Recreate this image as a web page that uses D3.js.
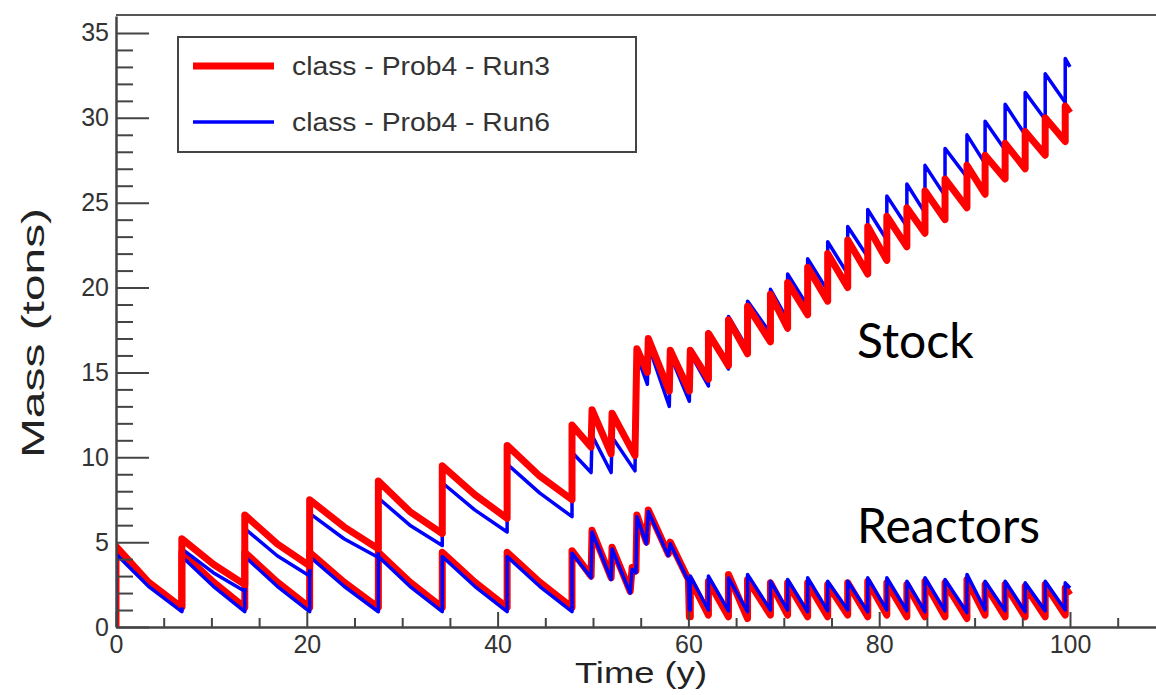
<!DOCTYPE html>
<html>
<head>
<meta charset="utf-8">
<script src="https://cdn.jsdelivr.net/npm/d3@7"></script>
<style>
  body { margin: 0; background: #fff; }
  svg { display: block; }
  text { font-family: "Liberation Sans", Arial, Helvetica, sans-serif; }
</style>
</head>
<body>
<svg width="1156" height="695"></svg>
<script>
// values: [time (y), mass (tons)]
// irregular first part of each curve, vertical jumps are repeated times
var reactorsRun3Start = [
  [0, 0], [0, 4.75], [3.4, 2.65], [6.9, 1.15],
  [6.9, 4.4], [10.2, 2.65], [13.5, 1.15],
  [13.5, 4.4], [16.9, 2.65], [20.3, 1.15],
  [20.3, 4.4], [23.9, 2.65], [27.5, 1.15],
  [27.5, 4.4], [30.8, 2.65], [34.2, 1.15],
  [34.2, 4.4], [37.6, 2.65], [41.0, 1.15],
  [41.0, 4.4], [44.4, 2.65], [47.8, 1.15],
  [47.8, 4.5], [49.8, 3.0], [49.9, 5.7], [51.9, 2.9],
  [52.0, 4.7], [53.9, 2.1], [54.1, 3.5], [54.5, 3.3],
  [54.6, 6.6], [55.6, 5.0], [55.8, 6.9], [57.9, 4.3],
  [58.1, 5.0], [60.0, 2.8], [60.1, 0.6], [60.2, 0.6],
  [60.2, 2.8]
];
var reactorsRun6Start = [
  [0, 0], [0, 4.3], [3.4, 2.4], [6.9, 0.9],
  [6.9, 4.15], [10.2, 2.4], [13.5, 0.9],
  [13.5, 4.15], [16.9, 2.4], [20.3, 0.9],
  [20.3, 4.15], [23.9, 2.4], [27.5, 0.9],
  [27.5, 4.15], [30.8, 2.4], [34.2, 0.9],
  [34.2, 4.15], [37.6, 2.4], [41.0, 0.9],
  [41.0, 4.15], [44.4, 2.4], [47.8, 0.9],
  [47.8, 4.35], [49.8, 2.9], [49.9, 5.6], [51.9, 2.8],
  [52.0, 4.6], [53.9, 2.0], [54.1, 3.4], [54.5, 3.2],
  [54.6, 6.5], [55.6, 4.9], [55.8, 6.8], [57.9, 4.2],
  [58.1, 4.9], [60.0, 2.7], [60.1, 1.0], [60.2, 1.0],
  [60.2, 3.0]
];
var stockRun3Start = [
  [6.9, 1.15], [6.9, 5.2], [10.2, 3.7], [13.5, 2.5],
  [13.5, 6.6], [16.9, 4.9], [20.3, 3.6],
  [20.3, 7.5], [23.9, 5.9], [27.5, 4.6],
  [27.5, 8.6], [30.8, 6.8], [34.2, 5.5],
  [34.2, 9.5], [37.6, 7.8], [41.0, 6.4],
  [41.0, 10.7], [44.4, 8.9], [47.8, 7.5],
  [47.8, 11.9], [49.8, 10.6], [49.9, 12.8], [51.9, 10.2],
  [52.0, 12.6], [54.4, 10.1], [54.6, 16.4], [55.7, 15.0],
  [55.8, 17.0], [58.0, 13.9], [58.1, 16.3], [60.1, 13.9],
  [60.2, 16.3]
];
var stockRun6Start = [
  [6.9, 0.9], [6.9, 4.6], [10.2, 3.2], [13.5, 2.1],
  [13.5, 5.8], [16.9, 4.2], [20.3, 3.0],
  [20.3, 6.7], [23.9, 5.2], [27.5, 4.1],
  [27.5, 7.6], [30.8, 6.0], [34.2, 4.8],
  [34.2, 8.5], [37.6, 6.9], [41.0, 5.6],
  [41.0, 9.6], [44.4, 7.9], [47.8, 6.5],
  [47.8, 10.3], [49.8, 9.1], [49.9, 11.3], [51.9, 9.1],
  [52.0, 11.2], [54.4, 9.2], [54.6, 16.0], [55.7, 14.3],
  [55.8, 16.6], [58.0, 13.0], [58.1, 16.0], [60.1, 13.3],
  [60.2, 16.1]
];

// regular 2-year teeth after t = 62: reload times, value just before and just after
var toothTimes = [62.1, 64.2, 66.2, 68.6, 70.4, 72.5, 74.6, 76.7, 78.8, 80.8,
                  82.9, 84.8, 86.9, 89.2, 91.1, 93.2, 95.3, 97.4, 99.5];

var stockRun3Low  = [14.6, 15.4, 16.1, 16.8, 17.6, 18.4, 19.2, 20.0, 20.8, 21.6,
                     22.4, 23.2, 24.0, 24.7, 25.5, 26.4, 27.0, 27.8, 28.6];
var stockRun3High = [17.3, 18.1, 18.9, 19.6, 20.3, 21.2, 22.0, 22.8, 23.6, 24.2,
                     24.7, 25.7, 26.4, 27.2, 27.8, 28.5, 29.2, 30.0, 30.7];
var stockRun6Low  = [14.2, 15.2, 16.4, 17.3, 18.1, 18.9, 19.8, 20.8, 21.8, 22.8,
                     23.6, 24.4, 25.4, 26.5, 27.3, 28.1, 29.0, 29.9, 30.9];
var stockRun6High = [17.4, 18.3, 19.2, 19.9, 20.8, 21.7, 22.7, 23.6, 24.6, 25.4,
                     26.1, 27.2, 28.2, 29.0, 29.8, 30.8, 31.5, 32.6, 33.5];

var reactorsRun3Low  = [0.7, 0.6, 0.5, 0.7, 0.7, 0.6, 0.6, 0.7, 0.6, 0.7,
                        0.6, 0.6, 0.6, 0.5, 0.7, 0.6, 0.6, 0.6, 0.7];
var reactorsRun3High = [2.7, 3.1, 2.8, 2.6, 2.6, 2.6, 2.5, 2.6, 2.7, 2.6,
                        2.5, 2.7, 2.6, 2.8, 2.5, 2.5, 2.4, 2.5, 2.3];
var reactorsRun6Low  = [1.0, 0.95, 0.9, 1.0, 1.0, 0.9, 0.95, 1.0, 0.9, 1.0,
                        0.95, 0.9, 0.95, 0.85, 1.0, 0.95, 0.9, 0.95, 1.0];
var reactorsRun6High = [3.0, 2.9, 3.1, 2.7, 2.8, 2.9, 2.7, 2.7, 2.9, 2.9,
                        2.7, 2.9, 2.8, 3.1, 2.7, 2.7, 2.6, 2.7, 2.6];

// value at t = 100 where the curves stop
var endValues = {stockRun3: 30.3, stockRun6: 33.0, reactorsRun3: 1.9, reactorsRun6: 2.3};

var seriesNames = ["class - Prob4 - Run3", "class - Prob4 - Run6"];
var xTicks = [0, 20, 40, 60, 80, 100];
var yTicks = [0, 5, 10, 15, 20, 25, 30, 35];

var svg = d3.select("svg");
var width = 1156;
var height = 695;
var margin = {left: 116, top: 16, bottom: 68};

var xScale = d3.scaleLinear().domain([0, 110]).range([margin.left, margin.left + 110 * 9.54]);
var yScale = d3.scaleLinear().domain([0, 36]).range([height - margin.bottom, margin.top]);

function buildCurve(start, low, high, last) {
  var pts = start.slice();
  toothTimes.forEach(function(t, i) {
    pts.push([t, low[i]]);
    pts.push([t, high[i]]);
  });
  pts.push([100, last]);
  return pts;
}

var line = d3.line()
  .x(function(d) { return xScale(d[0]); })
  .y(function(d) { return yScale(d[1]); });

var curves = [
  {pts: buildCurve(reactorsRun3Start, reactorsRun3Low, reactorsRun3High, endValues.reactorsRun3), color: "#ff0000", w: 7},
  {pts: buildCurve(reactorsRun6Start, reactorsRun6Low, reactorsRun6High, endValues.reactorsRun6), color: "#0000ff", w: 3.5},
  {pts: buildCurve(stockRun6Start, stockRun6Low, stockRun6High, endValues.stockRun6), color: "#0000ff", w: 3.5},
  {pts: buildCurve(stockRun3Start, stockRun3Low, stockRun3High, endValues.stockRun3), color: "#ff0000", w: 7}
];

svg.append("defs").append("clipPath").attr("id", "plot")
  .append("rect")
  .attr("x", margin.left).attr("y", margin.top)
  .attr("width", width - margin.left).attr("height", height - margin.bottom - margin.top);

svg.append("g").attr("clip-path", "url(#plot)")
  .selectAll("path")
  .data(curves)
  .enter().append("path")
  .attr("d", function(d) { return line(d.pts); })
  .attr("fill", "none")
  .attr("stroke", function(d) { return d.color; })
  .attr("stroke-width", function(d) { return d.w; })
  .attr("stroke-linejoin", "round");

// frame top
svg.append("line")
  .attr("x1", margin.left).attr("x2", width)
  .attr("y1", margin.top - 1).attr("y2", margin.top - 1)
  .attr("stroke", "#555").attr("stroke-width", 2);

var axisColor = "#444";

// y axis, ticks pointing into the frame
var yMinor = d3.range(0, 36, 1).filter(function(v) { return v % 5 !== 0; });
svg.append("g")
  .attr("transform", "translate(" + margin.left + ",0)")
  .call(d3.axisLeft(yScale).tickValues(yMinor).tickSize(-17).tickFormat(""))
  .call(function(g) { g.select(".domain").remove(); });
var yAxis = svg.append("g")
  .attr("transform", "translate(" + margin.left + ",0)")
  .call(d3.axisLeft(yScale).tickValues(yTicks).tickSize(-33).tickPadding(7).tickSizeOuter(0));

// x axis
var xMinor = d3.range(5, 110, 5).filter(function(v) { return v % 20 !== 0; });
svg.append("g")
  .attr("transform", "translate(0," + (height - margin.bottom) + ")")
  .call(d3.axisBottom(xScale).tickValues(xMinor).tickSize(-9).tickFormat(""))
  .call(function(g) { g.select(".domain").remove(); });
var xAxis = svg.append("g")
  .attr("transform", "translate(0," + (height - margin.bottom) + ")")
  .call(d3.axisBottom(xScale).tickValues(xTicks).tickSize(-15).tickPadding(8).tickSizeOuter(0));

svg.selectAll(".tick line").attr("stroke", axisColor).attr("stroke-width", 2);
svg.selectAll(".domain").attr("stroke", axisColor).attr("stroke-width", 2.5);
svg.selectAll(".tick text")
  .attr("fill", "#333")
  .style("font-size", "25px");

// axis titles
svg.append("text")
  .attr("transform", "rotate(-90)")
  .attr("x", -333)
  .attr("y", 44)
  .style("text-anchor", "middle")
  .style("font-size", "32px")
  .attr("textLength", 250)
  .attr("lengthAdjust", "spacingAndGlyphs")
  .attr("fill", "#222")
  .text("Mass (tons)");

svg.append("text")
  .attr("x", 641)
  .attr("y", 683)
  .style("text-anchor", "middle")
  .style("font-size", "30px")
  .attr("textLength", 132)
  .attr("lengthAdjust", "spacingAndGlyphs")
  .attr("fill", "#222")
  .text("Time (y)");

// legend
var legend = svg.append("g");
legend.append("rect")
  .attr("x", 178).attr("y", 37)
  .attr("width", 458).attr("height", 115)
  .attr("fill", "#fff")
  .attr("stroke", "#444")
  .attr("stroke-width", 2);

var legendRows = [{name: seriesNames[0], color: "#ff0000", w: 7, y: 66},
                  {name: seriesNames[1], color: "#0000ff", w: 3.5, y: 122}];
legendRows.forEach(function(r) {
  legend.append("line")
    .attr("x1", 193).attr("x2", 274)
    .attr("y1", r.y).attr("y2", r.y)
    .attr("stroke", r.color).attr("stroke-width", r.w);
  legend.append("text")
    .attr("x", 292).attr("y", r.y)
    .attr("dy", "0.35em")
    .style("font-size", "25px")
    .attr("textLength", 258)
    .attr("lengthAdjust", "spacingAndGlyphs")
    .attr("fill", "#333")
    .text(r.name);
});

// annotations
svg.append("text")
  .attr("x", 857).attr("y", 358)
  .style("font-family", "Lato, 'Open Sans', sans-serif")
  .style("font-size", "48px")
  .attr("fill", "#000")
  .text("Stock");

svg.append("text")
  .attr("x", 857).attr("y", 543)
  .style("font-family", "Lato, 'Open Sans', sans-serif")
  .style("font-size", "48px")
  .attr("fill", "#000")
  .text("Reactors");
</script>
</body>
</html>
